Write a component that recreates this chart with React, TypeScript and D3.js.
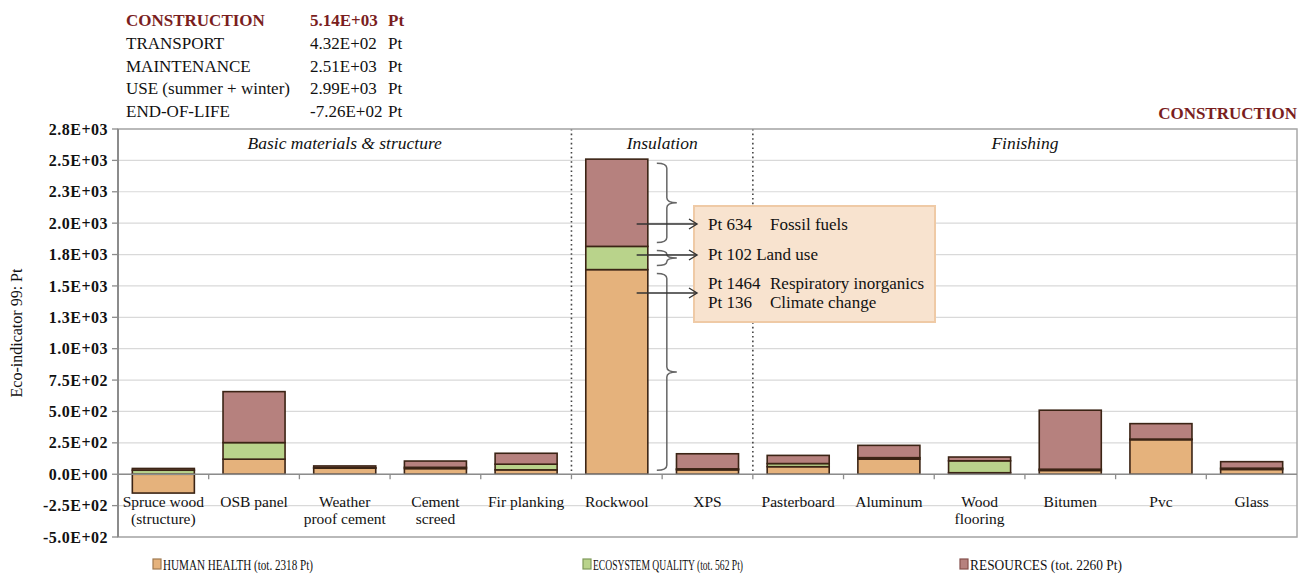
import React from 'react';
import * as d3 from 'd3';

// categories (two-line labels)
const categories = [
    'Spruce wood', 'OSB panel', 'Weather', 'Cement', 'Fir planking', 'Rockwool', 'XPS',
    'Pasterboard', 'Aluminum', 'Wood', 'Bitumen', 'Pvc', 'Glass',
];
const categorySecondLine = ['(structure)', '', 'proof cement', 'screed', '', '', '', '', '', 'flooring', '', '', ''];

// series values (Pt)
const humanHealth = [-150, 120, 48, 45, 35, 1630, 35, 60, 120, 12, 30, 275, 38];
const ecosystemQuality = [32, 132, 4, 10, 45, 185, 8, 25, 12, 95, 10, 5, 10];
const resources = [14, 406, 14, 50, 87, 695, 120, 65, 98, 30, 470, 123, 52];

const yTicks = [-500, -250, 0, 250, 500, 750, 1000, 1250, 1500, 1750, 2000, 2250, 2500, 2750];
const yTickLabels = ['-5.0E+02', '-2.5E+02', '0.0E+00', '2.5E+02', '5.0E+02', '7.5E+02', '1.0E+03',
    '1.3E+03', '1.5E+03', '1.8E+03', '2.0E+03', '2.3E+03', '2.5E+03', '2.8E+03'];

const legendLabels = ['HUMAN HEALTH (tot. 2318 Pt)', 'ECOSYSTEM QUALITY (tot. 562 Pt)', 'RESOURCES (tot. 2260 Pt)'];

const phaseNames = ['CONSTRUCTION', 'TRANSPORT', 'MAINTENANCE', 'USE (summer + winter)', 'END-OF-LIFE'];
const phaseValues = ['5.14E+03', '4.32E+02', '2.51E+03', '2.99E+03', '-7.26E+02'];

const sectionNames = ['Basic materials & structure', 'Insulation', 'Finishing'];

const noteLines = [
    ['Pt 634', 'Fossil fuels'],
    ['Pt 102 Land use', ''],
    ['Pt 1464', 'Respiratory inorganics'],
    ['Pt 136', 'Climate change'],
];

const keys = ['hh', 'eq', 'res'];
const colors: Record<string, string> = { hh: '#e5b27c', eq: '#b9d38b', res: '#b6817e' };
const legendStroke = ['#a07a50', '#7f9a5a', '#85504c'];

const serif = '"Liberation Serif", "Times New Roman", serif';
const darkRed = '#7a1e1e';

export default function App() {
    const left = 118, right = 1297, top = 129, bottom = 537;

    const x = d3.scaleBand<string>().domain(categories).range([left, right]).paddingInner(0.316).paddingOuter(0.158);
    const y = d3.scaleLinear().domain([-500, 2750]).range([bottom, top]);
    const bw = x.bandwidth();
    const step = x.step();

    const rows = categories.map((c, i) => ({ cat: c, hh: humanHealth[i], eq: ecosystemQuality[i], res: resources[i] }));
    const stacked = d3.stack<any>().keys(keys).offset(d3.stackOffsetDiverging)(rows);

    // section dividers between Fir planking | Rockwool and XPS | Pasterboard
    const div1 = (x(categories[4])! + bw + x(categories[5])!) / 2;
    const div2 = (x(categories[6])! + bw + x(categories[7])!) / 2;
    const sectionCenters = [(left + div1) / 2, (div1 + div2) / 2, (div2 + right) / 2];

    // Rockwool annotation
    const rw = 5;
    const rwX = x(categories[rw])!;
    const segs = stacked.map(s => s[rw]);
    const braceX0 = rwX + bw + 9;
    const brace = (yTop: number, yBot: number) => {
        const a = yTop + 4, b = yBot - 4, m = (a + b) / 2;
        const x0 = braceX0, x1 = x0 + 10, xt = x0 + 20, r = Math.min(5, (b - a) / 4);
        return `M${x0},${a} Q${x1},${a} ${x1},${a + r} L${x1},${m - r} Q${x1},${m} ${xt},${m} ` +
            `Q${x1},${m} ${x1},${m + r} L${x1},${b - r} Q${x1},${b} ${x0},${b}`;
    };
    const boxX = 694, boxY = 206, boxW = 241, boxH = 116;
    const noteBaselines = [230, 260, 289, 308];
    const arrowYs = [224, 255, 293];
    const arrowX0 = rwX + bw * 0.82, arrowX1 = boxX + 3;

    return (
        <svg width={1305} height={578} style={{ position: 'absolute', left: 0, top: 0, background: '#fff' }} fontFamily={serif}>
            {/* phase summary */}
            {phaseNames.map((n, i) => {
                const yy = 26 + i * 22.8;
                const first = i === 0;
                return (
                    <g key={n} fill={first ? darkRed : '#111'} fontWeight={first ? 'bold' : 'normal'} fontSize={17}>
                        <text x={126} y={yy}>{n}</text>
                        <text x={310} y={yy}>{phaseValues[i]}</text>
                        <text x={388} y={yy}>Pt</text>
                    </g>
                );
            })}
            <text x={right} y={119} textAnchor="end" fill={darkRed} fontWeight="bold" fontSize={17}>CONSTRUCTION</text>

            {/* gridlines */}
            {yTicks.map(t => (
                <line key={t} x1={left} x2={right} y1={y(t)} y2={y(t)} stroke="#d9d9d9" strokeWidth={1.2} />
            ))}

            {/* section dividers */}
            {[div1, div2].map(d => (
                <line key={d} x1={d} x2={d} y1={top} y2={y(0)} stroke="#444" strokeWidth={1.6} strokeDasharray="1.6,3" />
            ))}
            {sectionNames.map((s, i) => (
                <text key={s} x={sectionCenters[i]} y={149} textAnchor="middle" fontStyle="italic" fontSize={17.5} fill="#111">{s}</text>
            ))}

            {/* bars */}
            {stacked.map(series => (
                <g key={series.key} fill={colors[series.key]} stroke="#3b2415" strokeWidth={1.6}>
                    {series.map((d, i) => {
                        const y0 = y(d[0]), y1 = y(d[1]);
                        if (Math.abs(y0 - y1) < 0.01) return null;
                        return <rect key={i} x={x(categories[i])} width={bw} y={Math.min(y0, y1)} height={Math.abs(y0 - y1)} />;
                    })}
                </g>
            ))}

            {/* frame */}
            <rect x={left} y={top} width={right - left} height={bottom - top} fill="none" stroke="#a8a8a8" strokeWidth={1.5} />
            <line x1={left} x2={left} y1={top} y2={bottom} stroke="#8c8c8c" strokeWidth={2} />
            <line x1={left} x2={right} y1={y(0)} y2={y(0)} stroke="#8c8c8c" strokeWidth={1.6} />
            {d3.range(1, categories.length).map(i => (
                <line key={i} x1={left + i * step} x2={left + i * step} y1={y(0)} y2={y(0) + 5} stroke="#8c8c8c" strokeWidth={1.3} />
            ))}

            {/* y axis */}
            {yTicks.map((t, i) => (
                <g key={t}>
                    <line x1={left - 6} x2={left} y1={y(t)} y2={y(t)} stroke="#8c8c8c" strokeWidth={1.3} />
                    <text x={left - 10} y={y(t)} dy="0.35em" textAnchor="end" fontWeight="bold" fontSize={16} letterSpacing={0.5} fill="#111">
                        {yTickLabels[i]}
                    </text>
                </g>
            ))}
            <text transform={`translate(22,${(top + bottom) / 2}) rotate(-90)`} textAnchor="middle" fontSize={16} fill="#111">
                Eco-indicator 99: Pt
            </text>

            {/* x labels */}
            {categories.map((c, i) => (
                <g key={c} fontSize={15.5} fill="#111" textAnchor="middle">
                    <text x={x(c)! + bw / 2} y={507}>{c}</text>
                    {categorySecondLine[i] && <text x={x(c)! + bw / 2} y={524}>{categorySecondLine[i]}</text>}
                </g>
            ))}

            {/* braces */}
            {segs.map((d, i) => (
                <path key={i} d={brace(y(d[1]), y(d[0]))} fill="none" stroke="#666" strokeWidth={1.5} />
            ))}

            {/* annotation box */}
            <rect x={boxX} y={boxY} width={boxW} height={boxH} fill="#f8e3cf" stroke="#efcaa6" strokeWidth={2} />
            {noteLines.map((l, i) => (
                <g key={i} fontSize={17} fill="#111">
                    <text x={708} y={noteBaselines[i]}>{l[0]}</text>
                    {l[1] && <text x={770} y={noteBaselines[i]}>{l[1]}</text>}
                </g>
            ))}
            {arrowYs.map(a => (
                <g key={a} stroke="#333" strokeWidth={1.4} fill="none">
                    <line x1={arrowX0} x2={arrowX1} y1={a} y2={a} />
                    <path d={`M${arrowX1 - 8},${a - 5} L${arrowX1},${a} L${arrowX1 - 8},${a + 5}`} />
                </g>
            ))}

            {/* legend */}
            {legendLabels.map((l, i) => {
                const lx = [153, 583, 960][i];
                const len = [150, 150, 152][i];
                return (
                    <g key={l}>
                        <rect x={lx} y={559} width={8} height={10} fill={colors[keys[i]]} stroke={legendStroke[i]} strokeWidth={1.2} />
                        <text x={lx + 10} y={570} fontSize={15.5} textLength={len} lengthAdjust="spacingAndGlyphs" fill="#111">{l}</text>
                    </g>
                );
            })}
        </svg>
    );
}
